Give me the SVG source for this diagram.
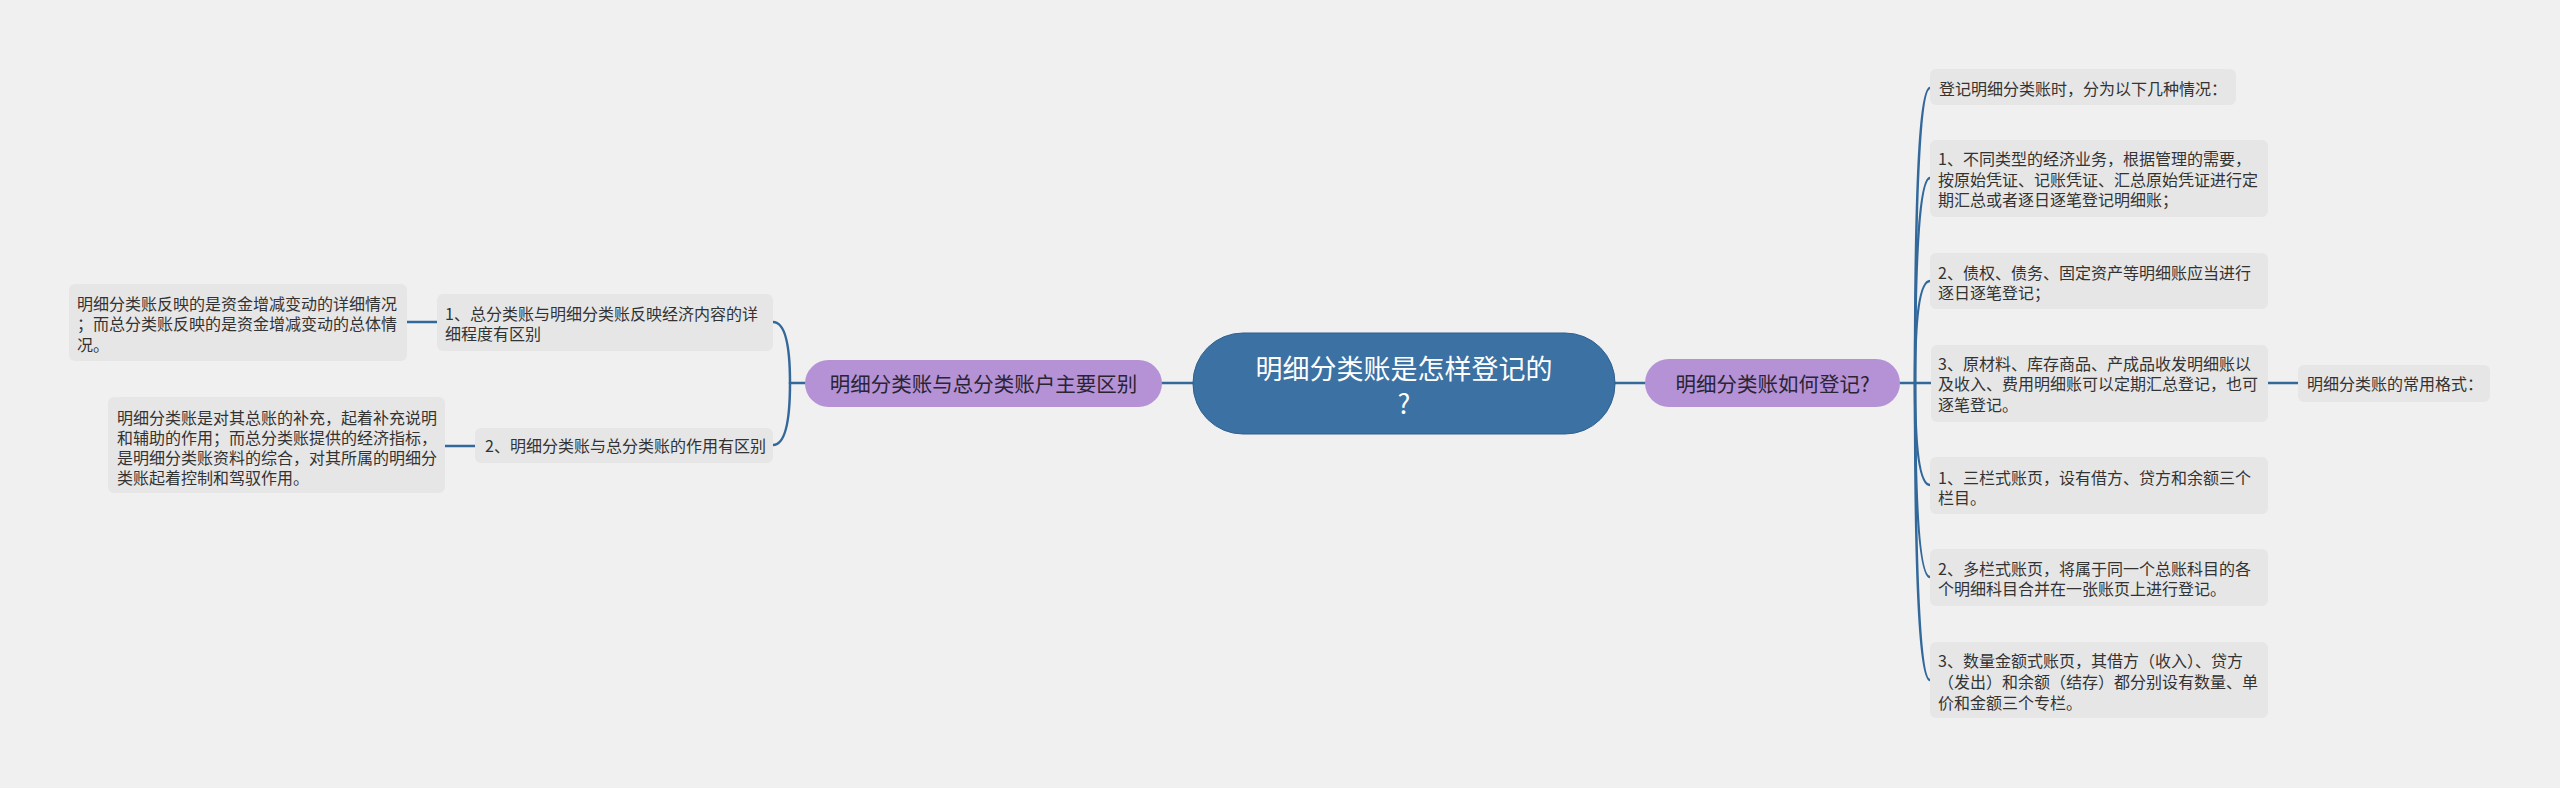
<svg xmlns="http://www.w3.org/2000/svg" width="2560" height="788" viewBox="0 0 2560 788">
<style>
.bg{fill:#f0f0f0}
.leaf{fill:#e6e6e6}
.sub{fill:#b592d6}
.main{fill:#3c71a3;stroke:#2f6191;stroke-width:1}
.c{fill:none;stroke:#33689b;stroke-width:2.5;stroke-linecap:round}
text{font-family:"Noto Sans CJK SC","Noto Sans",sans-serif;dominant-baseline:central}
.t16{font-size:16px;fill:#333333}
.t20{font-size:20.5px;fill:#2a2433;text-anchor:middle}
.t27{font-size:27px;fill:#ffffff;text-anchor:middle}
</style>
<rect class="bg" x="0" y="0" width="2560" height="788"/>
<g id="connectors">
<path class="c" d="M1162,383 L1193,383"/>
<path class="c" d="M1615,383 L1645,383"/>
<path class="c" d="M805,383 L790,383"/>
<path class="c" d="M790,383 Q790,322 773,322"/>
<path class="c" d="M790,383 Q790,445 773,445"/>
<path class="c" d="M437,322 L407,322"/>
<path class="c" d="M475,446 L445,446"/>
<path class="c" d="M1900,383 L1915,383"/>
<path class="c" d="M1915,383 Q1915,88 1930,88"/>
<path class="c" d="M1915,383 Q1915,178 1930,178"/>
<path class="c" d="M1915,383 Q1915,281 1930,281"/>
<path class="c" d="M1915,383 L1931,383"/>
<path class="c" d="M1915,383 Q1915,485 1930,485"/>
<path class="c" d="M1915,383 Q1915,577 1930,577"/>
<path class="c" d="M1915,383 Q1915,680 1930,680"/>
<path class="c" d="M2268,383 L2298,383"/>
</g>
<g id="main">
<rect class="main" x="1193" y="333" width="422" height="101" rx="50"/>
<text class="t27" x="1404" y="367">明细分类账是怎样登记的</text>
<text class="t27" x="1404" y="402">?</text>
</g>
<g id="sub-left">
<rect class="sub" x="805" y="360" width="357" height="47" rx="23.5"/>
<text class="t20" x="983.5" y="383">明细分类账与总分类账户主要区别</text>
</g>
<g id="sub-right">
<rect class="sub" x="1645" y="359" width="255" height="48" rx="24"/>
<text class="t20" x="1772.5" y="383">明细分类账如何登记?</text>
</g>
<g id="left-1">
<rect class="leaf" x="437" y="294" width="336" height="57" rx="6"/>
<text class="t16" x="445" y="313">1、总分类账与明细分类账反映经济内容的详</text>
<text class="t16" x="445" y="333">细程度有区别</text>
</g>
<g id="left-1-leaf">
<rect class="leaf" x="69" y="284" width="338" height="77" rx="6"/>
<text class="t16" x="77" y="303">明细分类账反映的是资金增减变动的详细情况</text>
<text class="t16" x="77" y="323">；而总分类账反映的是资金增减变动的总体情</text>
<text class="t16" x="77" y="344">况。</text>
</g>
<g id="left-2">
<rect class="leaf" x="475" y="428" width="298" height="35" rx="6"/>
<text class="t16" x="485" y="445">2、明细分类账与总分类账的作用有区别</text>
</g>
<g id="left-2-leaf">
<rect class="leaf" x="108" y="397" width="337" height="96" rx="6"/>
<text class="t16" x="117" y="417">明细分类账是对其总账的补充，起着补充说明</text>
<text class="t16" x="117" y="437">和辅助的作用；而总分类账提供的经济指标，</text>
<text class="t16" x="117" y="457">是明细分类账资料的综合，对其所属的明细分</text>
<text class="t16" x="117" y="477">类账起着控制和驾驭作用。</text>
</g>
<g id="right-a">
<rect class="leaf" x="1930" y="69" width="306" height="36" rx="6"/>
<text class="t16" x="1939" y="88">登记明细分类账时，分为以下几种情况：</text>
</g>
<g id="right-b">
<rect class="leaf" x="1930" y="140" width="338" height="77" rx="6"/>
<text class="t16" x="1938" y="158">1、不同类型的经济业务，根据管理的需要，</text>
<text class="t16" x="1938" y="179">按原始凭证、记账凭证、汇总原始凭证进行定</text>
<text class="t16" x="1938" y="199">期汇总或者逐日逐笔登记明细账；</text>
</g>
<g id="right-c">
<rect class="leaf" x="1930" y="253" width="338" height="56" rx="6"/>
<text class="t16" x="1938" y="272">2、债权、债务、固定资产等明细账应当进行</text>
<text class="t16" x="1938" y="292">逐日逐笔登记；</text>
</g>
<g id="right-d">
<rect class="leaf" x="1931" y="345" width="337" height="77" rx="6"/>
<text class="t16" x="1938" y="363">3、原材料、库存商品、产成品收发明细账以</text>
<text class="t16" x="1938" y="383">及收入、费用明细账可以定期汇总登记，也可</text>
<text class="t16" x="1938" y="404">逐笔登记。</text>
</g>
<g id="right-d-child">
<rect class="leaf" x="2298" y="365" width="192" height="37" rx="6"/>
<text class="t16" x="2307" y="383">明细分类账的常用格式：</text>
</g>
<g id="right-e">
<rect class="leaf" x="1930" y="457" width="338" height="57" rx="6"/>
<text class="t16" x="1938" y="477">1、三栏式账页，设有借方、贷方和余额三个</text>
<text class="t16" x="1938" y="497">栏目。</text>
</g>
<g id="right-f">
<rect class="leaf" x="1930" y="549" width="338" height="57" rx="6"/>
<text class="t16" x="1938" y="568">2、多栏式账页，将属于同一个总账科目的各</text>
<text class="t16" x="1938" y="588">个明细科目合并在一张账页上进行登记。</text>
</g>
<g id="right-g">
<rect class="leaf" x="1930" y="642" width="338" height="76" rx="6"/>
<text class="t16" x="1938" y="660">3、数量金额式账页，其借方（收入）、贷方</text>
<text class="t16" x="1938" y="681">（发出）和余额（结存）都分别设有数量、单</text>
<text class="t16" x="1938" y="702">价和金额三个专栏。</text>
</g>
</svg>
